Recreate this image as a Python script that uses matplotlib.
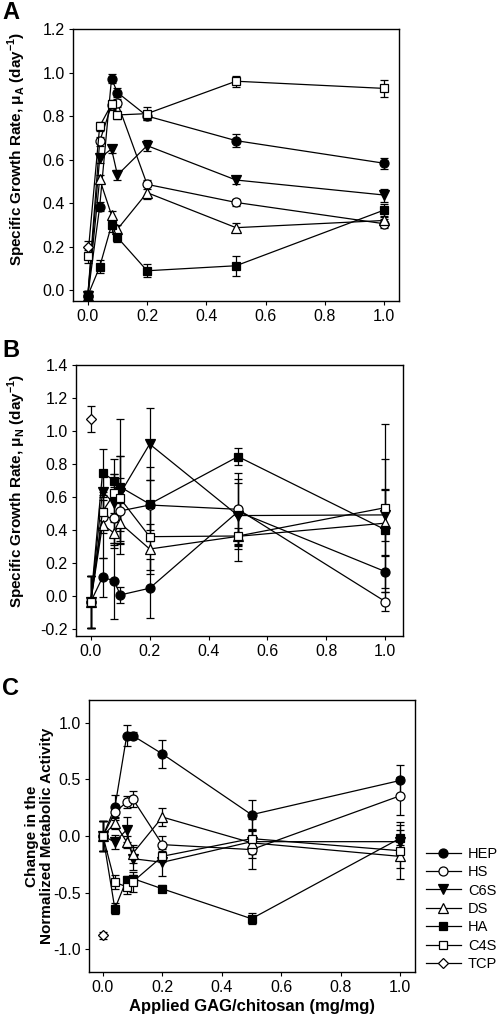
import numpy as np
import matplotlib
matplotlib.use("Agg")
import matplotlib.pyplot as plt
from matplotlib.lines import Line2D

plt.rcParams["font.family"] = ["Liberation Sans", "DejaVu Sans"]
plt.rcParams["mathtext.fontset"] = "custom"
plt.rcParams["mathtext.rm"] = "Liberation Sans"
plt.rcParams["mathtext.bf"] = "Liberation Sans:bold"

# applied GAG/chitosan ratios (mg/mg)
dose = [0.0, 0.04, 0.08, 0.1, 0.2, 0.5, 1.0]
names = ["HEP", "HS", "C6S", "DS", "HA", "C4S", "TCP"]

# --- panel A: specific growth rate mu_A
hep_a = [-0.025, 0.383, 0.972, 0.908, 0.800, 0.687, 0.583]
hs_a = [-0.025, 0.683, 0.850, 0.860, 0.486, 0.403, 0.305]
c6s_a = [-0.025, 0.606, 0.649, 0.529, 0.664, 0.506, 0.437]
ds_a = [-0.025, 0.510, 0.345, 0.280, 0.448, 0.287, 0.320]
ha_a = [-0.025, 0.107, 0.299, 0.242, 0.089, 0.112, 0.368]
c4s_a = [0.155, 0.753, 0.854, 0.805, 0.811, 0.960, 0.927]
hep_a_err = [0.02, 0.02, 0.02, 0.02, 0.02, 0.03, 0.025]
hs_a_err = [0.02, 0.02, 0.02, 0.02, 0.02, 0.015, 0.02]
c6s_a_err = [0.02, 0.02, 0.02, 0.025, 0.025, 0.02, 0.03]
ds_a_err = [0.02, 0.02, 0.02, 0.02, 0.03, 0.02, 0.02]
ha_a_err = [0.02, 0.03, 0.03, 0.02, 0.03, 0.045, 0.03]
c4s_a_err = [0.03, 0.02, 0.02, 0.02, 0.03, 0.025, 0.04]
tcp_a, tcp_a_err = 0.199, 0.025

# --- panel B: specific growth rate mu_N
hep_b = [-0.038, 0.111, 0.090, 0.004, 0.045, 0.510, 0.146]
hs_b = [-0.038, 0.480, 0.470, 0.514, 0.550, 0.524, -0.036]
c6s_b = [-0.038, 0.630, 0.560, 0.620, 0.920, 0.486, 0.490]
ds_b = [-0.038, 0.430, 0.380, 0.440, 0.283, 0.360, 0.440]
ha_b = [-0.038, 0.746, 0.698, 0.660, 0.556, 0.844, 0.400]
c4s_b = [-0.038, 0.510, 0.620, 0.590, 0.358, 0.362, 0.534]
hep_b_err = [0.16, 0.12, 0.23, 0.05, 0.18, 0.20, 0.10]
hs_b_err = [0.16, 0.10, 0.15, 0.20, 0.15, 0.22, 0.06]
c6s_b_err = [0.16, 0.10, 0.27, 0.23, 0.22, 0.20, 0.16]
ds_b_err = [0.16, 0.20, 0.07, 0.12, 0.15, 0.15, 0.20]
ha_b_err = [0.16, 0.145, 0.04, 0.41, 0.223, 0.05, 0.43]
c4s_b_err = [0.16, 0.10, 0.12, 0.26, 0.20, 0.05, 0.51]
tcp_b, tcp_b_err = 1.072, 0.08

# --- panel C: change in normalized metabolic activity
hep_c = [0.0, 0.252, 0.886, 0.886, 0.724, 0.188, 0.490]
hs_c = [0.0, 0.208, 0.300, 0.328, -0.076, -0.120, 0.355]
c6s_c = [0.0, -0.053, 0.056, -0.200, -0.232, -0.050, -0.050]
ds_c = [0.0, 0.114, -0.053, -0.155, 0.167, -0.060, -0.180]
ha_c = [0.0, -0.642, -0.384, -0.375, -0.466, -0.730, -0.020]
c4s_c = [0.0, -0.408, -0.449, -0.405, -0.179, -0.023, -0.130]
hep_c_err = [0.13, 0.11, 0.09, 0.03, 0.12, 0.13, 0.14]
hs_c_err = [0.13, 0.05, 0.05, 0.07, 0.08, 0.17, 0.17]
c6s_c_err = [0.13, 0.06, 0.11, 0.10, 0.12, 0.10, 0.10]
ds_c_err = [0.13, 0.05, 0.05, 0.08, 0.08, 0.10, 0.10]
ha_c_err = [0.13, 0.05, 0.03, 0.03, 0.03, 0.05, 0.12]
c4s_c_err = [0.13, 0.06, 0.06, 0.09, 0.05, 0.17, 0.25]
tcp_c, tcp_c_err = -0.877, 0.03

# marker styles: (marker, facecolor)
styles = {
    "HEP": ("o", "black"),
    "HS": ("o", "white"),
    "C6S": ("v", "black"),
    "DS": ("^", "white"),
    "HA": ("s", "black"),
    "C4S": ("s", "white"),
    "TCP": ("D", "white"),
}
msize = {"o": 6.5, "v": 6.5, "^": 6.5, "s": 6, "D": 5.5}

fig = plt.figure(figsize=(4.97, 10.23), dpi=100)
axA = fig.add_axes([73 / 497, 1 - 301 / 1023, 326 / 497, 272 / 1023])
axB = fig.add_axes([76 / 497, 1 - 636 / 1023, 327 / 497, 271 / 1023])
axC = fig.add_axes([89 / 497, 1 - 972 / 1023, 326 / 497, 272 / 1023])


def draw(ax, series, errs, tcp, tcp_err):
    for name, y, e in zip(names[:-1], series, errs):
        mk, fc = styles[name]
        ax.errorbar(dose, y, yerr=e, color="black", lw=0.9, marker=mk,
                    mfc=fc, mec="black", mew=0.9, ms=msize[mk],
                    capsize=3, capthick=0.9, elinewidth=0.9)
    mk, fc = styles["TCP"]
    ax.errorbar([dose[0]], [tcp], yerr=tcp_err, color="black", lw=0.9,
                marker=mk, mfc=fc, mec="black", mew=0.9, ms=msize[mk],
                capsize=3, capthick=0.9, elinewidth=0.9)
    ax.tick_params(direction="out", length=3, width=0.8, labelsize=11.5,
                   top=False, right=False, pad=3)
    ax.set_xticks(np.arange(0, 1.01, 0.2))
    ax.set_xticklabels(["0.0", "0.2", "0.4", "0.6", "0.8", "1.0"])
    for sp in ax.spines.values():
        sp.set_linewidth(1.0)


draw(axA, [hep_a, hs_a, c6s_a, ds_a, ha_a, c4s_a],
     [hep_a_err, hs_a_err, c6s_a_err, ds_a_err, ha_a_err, c4s_a_err],
     tcp_a, tcp_a_err)
draw(axB, [hep_b, hs_b, c6s_b, ds_b, ha_b, c4s_b],
     [hep_b_err, hs_b_err, c6s_b_err, ds_b_err, ha_b_err, c4s_b_err],
     tcp_b, tcp_b_err)
draw(axC, [hep_c, hs_c, c6s_c, ds_c, ha_c, c4s_c],
     [hep_c_err, hs_c_err, c6s_c_err, ds_c_err, ha_c_err, c4s_c_err],
     tcp_c, tcp_c_err)

axA.set_xlim(-0.05, 1.05)
axA.set_ylim(-0.05, 1.2)
axA.set_yticks(np.arange(0, 1.21, 0.2))
axA.set_yticklabels(["0.0", "0.2", "0.4", "0.6", "0.8", "1.0", "1.2"])
axA.set_ylabel(r"Specific Growth Rate, μ$_\mathbf{A}$ (day$^\mathbf{-1}$)",
               fontsize=11, fontweight="bold")
axA.yaxis.set_label_coords(-0.138, 0.56)

axB.set_xlim(-0.05, 1.06)
axB.set_ylim(-0.245, 1.4)
axB.set_yticks(np.arange(-0.2, 1.41, 0.2))
axB.set_yticklabels(["-0.2", "0.0", "0.2", "0.4", "0.6", "0.8", "1.0", "1.2", "1.4"])
axB.set_ylabel(r"Specific Growth Rate, μ$_\mathbf{N}$ (day$^\mathbf{-1}$)",
               fontsize=11, fontweight="bold")
axB.yaxis.set_label_coords(-0.147, 0.535)

axC.set_xlim(-0.047, 1.05)
axC.set_ylim(-1.2, 1.2)
axC.set_yticks([-1.0, -0.5, 0.0, 0.5, 1.0])
axC.set_yticklabels(["-1.0", "-0.5", "0.0", "0.5", "1.0"])
axC.set_ylabel("Change in the\nNormalized Metabolic Activity",
               fontsize=11, fontweight="bold", linespacing=1.1)
axC.yaxis.set_label_coords(-0.107, 0.5)
axC.set_xlabel("Applied GAG/chitosan (mg/mg)", fontsize=12,
               fontweight="bold")
axC.xaxis.set_label_coords(0.5, -0.1)

# legend handles: line + marker only, no error bars
handles = []
for name in names:
    mk, fc = styles[name]
    handles.append(Line2D([], [], color="black", lw=0.9, marker=mk,
                          mfc=fc, mec="black", mew=0.9, ms=msize[mk]))
fig.legend(handles, names, loc="upper left",
           bbox_to_anchor=(420 / 497, 1 - 841 / 1023), frameon=False,
           fontsize=10.5, handlelength=2.4, labelspacing=0.3,
           handletextpad=0.5, borderaxespad=0)

for letter, ypix in [("A", 1), ("B", 339), ("C", 677)]:
    fig.text(2 / 497, 1 - ypix / 1023, letter, fontsize=17,
             fontweight="bold", va="top", ha="left")

fig.savefig("out.png", dpi=100)
